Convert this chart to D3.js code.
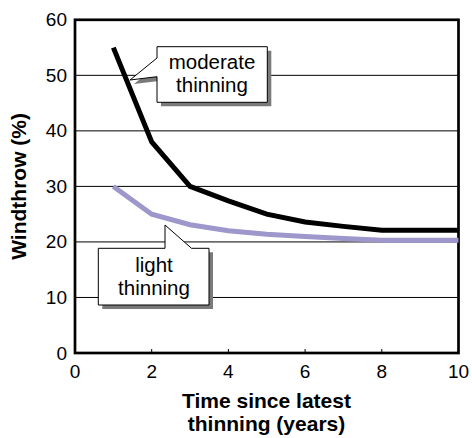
<!DOCTYPE html>
<html><head><meta charset="utf-8">
<script src="https://cdn.jsdelivr.net/npm/d3@7"></script>
<style>body{margin:0;background:#fff}svg{display:block;font-family:Arial,"Liberation Sans",Helvetica,sans-serif}</style>
</head><body>
<svg id="c" width="472" height="438"></svg>
<script>
const years = [1,2,3,4,5,6,7,8,9,10];
const moderate = [55,38,30,27.4,25,23.6,22.8,22.1,22.1,22.1];
const light = [30,25,23.1,22,21.4,21,20.6,20.3,20.3,20.3];
const xTicks = [0,2,4,6,8,10];
const yTicks = [0,10,20,30,40,50,60];

const svg = d3.select('#c');
const x = d3.scaleLinear().domain([0,10]).range([75,458.5]);
const y = d3.scaleLinear().domain([0,60]).range([353,19.8]);

// gridlines
svg.append('g').selectAll('line').data(yTicks.filter(d=>d>0&&d<60)).join('line')
  .attr('x1',x(0)).attr('x2',x(10)).attr('y1',d=>y(d)).attr('y2',d=>y(d))
  .attr('stroke','#000').attr('stroke-width',1);

// x ticks inside
svg.append('g').selectAll('line').data(xTicks.filter(d=>d>0&&d<10)).join('line')
  .attr('x1',d=>x(d)).attr('x2',d=>x(d)).attr('y1',y(0)).attr('y2',y(0)-4)
  .attr('stroke','#000').attr('stroke-width',1);

// frame
svg.append('rect').attr('x',x(0)).attr('y',y(60)).attr('width',x(10)-x(0)).attr('height',y(0)-y(60))
  .attr('fill','none').attr('stroke','#000').attr('stroke-width',2.7);

// tick labels
svg.append('g').selectAll('text').data(xTicks).join('text')
  .attr('x',d=>x(d)).attr('y',y(0)+25).attr('text-anchor','middle')
  .attr('font-size',19).text(d=>d);
svg.append('g').selectAll('text').data(yTicks).join('text')
  .attr('x',x(0)-8).attr('y',d=>y(d)+6.5).attr('text-anchor','end')
  .attr('font-size',19).text(d=>d);

// lines
const line = d3.line().x((d,i)=>x(years[i])).y(d=>y(d));
svg.append('path').datum(light).attr('d',line).attr('fill','none')
  .attr('stroke','#9d97cb').attr('stroke-width',5).attr('stroke-linejoin','miter');
svg.append('path').datum(moderate).attr('d',line).attr('fill','none')
  .attr('stroke','#000').attr('stroke-width',5).attr('stroke-linejoin','miter');

// callouts
function callout(pts, lines, cx, by){
  const g = svg.append('g');
  const p = 'M'+pts.map(q=>q.join(',')).join('L')+'Z';
  g.append('path').attr('d',p).attr('transform','translate(4,4)').attr('fill','#7a7a7a');
  g.append('path').attr('d',p).attr('fill','#fff').attr('stroke','#000').attr('stroke-width',1);
  g.selectAll('text').data(lines).join('text').attr('x',cx).attr('y',(d,i)=>by+i*23.5)
    .attr('text-anchor','middle').attr('font-size',20.5).text(d=>d);
}
callout([[157,46.7],[267.3,46.7],[267.3,102.3],[157,102.3],[157,76.7],[130,80],[157,58]],
  ['moderate','thinning'], 212, 68.5);
callout([[98.3,248.3],[165,248.3],[165,225],[191.5,248.3],[209,248.3],[209,305],[98.3,305]],
  ['light','thinning'], 154, 271.5);

// axis titles
svg.append('text').attr('x',266.5).attr('y',408).attr('text-anchor','middle')
  .attr('font-size',21).attr('font-weight','bold').text('Time since latest');
svg.append('text').attr('x',266.5).attr('y',431).attr('text-anchor','middle')
  .attr('font-size',21).attr('font-weight','bold').text('thinning (years)');
svg.append('text').attr('transform','translate(26,'+((y(0)+y(60))/2)+') rotate(-90)')
  .attr('text-anchor','middle').attr('font-size',21).attr('font-weight','bold').text('Windthrow (%)');
</script>
</body></html>
